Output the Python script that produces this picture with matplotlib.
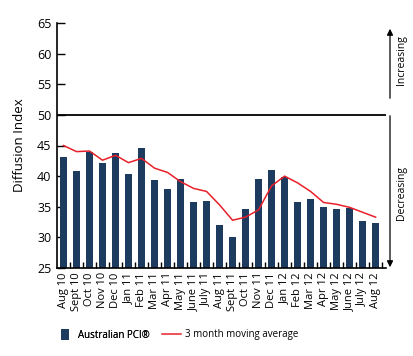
"""
Australian PCI diffusion index with 3 month moving average.
Writes out.png in the current working directory.
"""

import matplotlib
matplotlib.use('Agg')
import matplotlib.pyplot as plt
from matplotlib.patches import Patch
from matplotlib.lines import Line2D
import numpy as np

# month labels along the x axis:
months = ['Aug 10', 'Sept 10', 'Oct 10', 'Nov 10', 'Dec 10', 'Jan 11',
          'Feb 11', 'Mar 11', 'Apr 11', 'May 11', 'June 11', 'July 11',
          'Aug 11', 'Sept 11', 'Oct 11', 'Nov 11', 'Dec 11', 'Jan 12',
          'Feb 12', 'Mar 12', 'Apr 12', 'May 12', 'June 12', 'July 12',
          'Aug 12']

# monthly index values (bars):
pci = [43.2, 40.8, 44.0, 42.2, 43.8, 40.3, 44.6, 39.4, 37.9, 39.6,
       35.8, 36.0, 32.1, 30.0, 34.6, 39.6, 41.0, 39.9, 35.7, 36.2,
       34.9, 34.7, 34.8, 32.7, 32.3]

# 3 month moving average (red line):
moving_avg = [45.0, 44.0, 44.1, 42.6, 43.4, 42.2, 42.9, 41.3, 40.6, 39.1,
              38.0, 37.5, 35.3, 32.8, 33.3, 34.5, 38.4, 40.0, 38.9, 37.5,
              35.7, 35.4, 34.9, 34.1, 33.3]

bar_col = '#1d3a5f'
line_col = '#e8202a'

plt.rcParams['font.family'] = ['Open Sans', 'DejaVu Sans']

plt_dpi = 100
fig = plt.figure(figsize=(414 / plt_dpi, 356 / plt_dpi), dpi=plt_dpi)
ax = fig.add_axes([57 / 414, 1 - 268 / 356, 329 / 414, 245 / 356])

x = np.arange(len(months))
ax.bar(x, pci, width=0.55, color=bar_col, zorder=2)
ax.plot(x, moving_avg, color=line_col, lw=1.1, zorder=3)

# the 50 line splits increasing / decreasing:
ax.axhline(50, color='black', lw=1.3, zorder=1)

ax.set_xlim(-0.5, 24.8)
ax.set_ylim(25, 65)
ax.set_yticks(range(25, 66, 5))
ax.set_xticks(x)
ax.set_xticklabels(months, rotation=90, fontsize=8)
ax.tick_params(axis='x', length=0, pad=3)
ax.set_xticks(x + 0.5, minor=True)
ax.tick_params(axis='x', which='minor', direction='in', length=4,
               width=1, color='black')
ax.tick_params(axis='y', direction='in', length=6, width=1,
               labelsize=9, pad=4)

for side in ['top', 'right']:
    ax.spines[side].set_visible(False)
for side in ['left', 'bottom']:
    ax.spines[side].set_linewidth(1.2)

ax.set_ylabel('Diffusion Index', fontsize=9.5, labelpad=8)

# arrows and labels on the right:
arr_x = 390 / 414
ax.annotate('', xy=(arr_x, 1 - 26 / 356), xytext=(arr_x, 1 - 101 / 356),
            xycoords='figure fraction', textcoords='figure fraction',
            arrowprops=dict(arrowstyle='-|>', color='black', lw=0.9,
                            mutation_scale=9))
ax.annotate('', xy=(arr_x, 1 - 270 / 356), xytext=(arr_x, 1 - 113 / 356),
            xycoords='figure fraction', textcoords='figure fraction',
            arrowprops=dict(arrowstyle='-|>', color='black', lw=0.9,
                            mutation_scale=9))
fig.text(402 / 414, 1 - 60 / 356, 'Increasing', rotation=90,
         ha='center', va='center', fontsize=7.5)
fig.text(402 / 414, 1 - 193 / 356, 'Decreasing', rotation=90,
         ha='center', va='center', fontsize=7.5)

# two small legends, one per series:
bar_handle = Patch(facecolor=bar_col, edgecolor='none')
line_handle = Line2D([], [], color=line_col, lw=1.1)
leg1 = fig.legend([bar_handle], ['Australian PCI\u00ae'], loc='center left',
                  bbox_to_anchor=(52 / 414, 1 - 335 / 356), frameon=False,
                  fontsize=7, handlelength=0.85, handleheight=1.3,
                  handletextpad=0.9)
fig.legend([line_handle], ['3 month moving average'], loc='center left',
           bbox_to_anchor=(153 / 414, 1 - 335 / 356), frameon=False,
           fontsize=7, handlelength=2.0, handletextpad=0.4)
fig.add_artist(leg1)

plt.savefig('out.png', dpi=plt_dpi)
plt.close()
